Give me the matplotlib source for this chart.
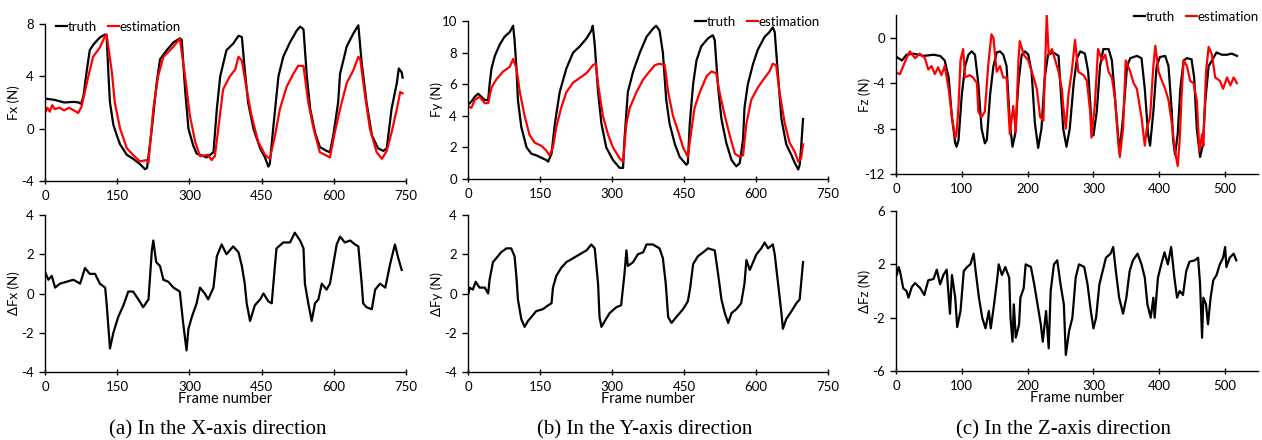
import numpy as np
import matplotlib.pyplot as plt

plt.rcParams['font.family'] = ['Lato', 'DejaVu Sans']
plt.rcParams['axes.unicode_minus'] = False

# (frame, value)
fx_truth = np.array([
    [0, 2.3], [10, 2.25], [20, 2.2], [40, 2.0], [60, 2.05], [70, 2.0], [75, 1.9], [80, 2.5],
    [87, 4.5], [93, 6.0], [100, 6.4], [107, 6.7], [115, 7.0], [125, 7.2], [128, 7.1], [132, 4.0],
    [135, 2.0], [142, 0.3], [150, -0.6], [156, -1.2], [170, -2.0], [183, -2.3], [197, -2.7],
    [208, -3.1], [212, -3.0], [222, 0.0], [232, 3.5], [239, 5.3], [253, 6.0], [267, 6.6],
    [280, 6.9], [284, 6.8], [291, 3.0], [298, 0.0], [308, -1.3], [315, -1.9], [329, -2.1],
    [336, -2.2], [350, -1.8], [357, 1.5], [364, 4.0], [377, 6.0], [391, 6.5], [402, 7.1],
    [409, 7.0], [415, 4.5], [422, 2.0], [433, 0.0], [447, -1.5], [457, -2.2], [464, -2.9],
    [467, -2.7], [474, 0.0], [485, 4.0], [495, 5.5], [509, 6.6], [523, 7.5], [530, 7.8],
    [537, 7.6], [544, 4.0], [551, 1.5], [561, -0.3], [571, -1.4], [585, -1.7], [592, -1.8],
    [599, -0.5], [609, 2.0], [613, 4.2], [627, 6.3], [641, 7.3], [651, 7.9], [658, 5.0],
    [668, 2.0], [679, -0.5], [692, -1.5], [703, -1.7], [710, -1.5], [720, 1.5], [731, 3.5],
    [735, 4.6], [741, 4.3], [743, 3.9]])
fx_est = np.array([
    [0, 1.2], [5, 1.6], [10, 1.3], [15, 1.8], [20, 1.5], [30, 1.6], [40, 1.4], [50, 1.6],
    [60, 1.4], [69, 1.2], [76, 1.7], [90, 4.0], [100, 5.5], [114, 6.2], [125, 7.1], [128, 7.2],
    [139, 4.3], [145, 2.0], [156, 0.0], [170, -1.5], [183, -2.0], [197, -2.5], [211, -2.4],
    [215, -2.6], [225, 1.5], [235, 4.0], [246, 5.5], [260, 6.0], [274, 6.6], [280, 6.9],
    [291, 4.0], [301, 1.0], [312, -1.0], [322, -2.1], [339, -2.0], [346, -2.4], [353, -2.1],
    [360, 0.0], [370, 3.0], [384, 4.0], [395, 4.5], [402, 5.5], [409, 5.2], [419, 3.0],
    [429, 1.0], [443, -1.0], [457, -2.0], [467, -2.3], [478, -0.5], [488, 1.5], [502, 3.2],
    [516, 4.2], [526, 4.8], [537, 4.8], [547, 2.0], [558, 0.0], [571, -1.8], [582, -2.0],
    [592, -2.2], [602, -0.3], [613, 1.5], [627, 3.5], [641, 4.5], [651, 5.5], [655, 5.3],
    [665, 2.5], [675, 0.0], [689, -1.8], [700, -2.3], [710, -1.7], [720, -0.3], [731, 1.5],
    [738, 2.8], [743, 2.7]])
dfx = np.array([
    [0, 1.1], [7, 0.7], [14, 0.9], [21, 0.3], [31, 0.5], [45, 0.6], [59, 0.7], [73, 0.5],
    [83, 1.3], [93, 1.0], [104, 1.0], [114, 0.5], [125, 0.3], [128, -0.5], [135, -2.8],
    [142, -2.0], [152, -1.2], [163, -0.6], [173, 0.1], [183, 0.1], [194, -0.3], [204, -0.7],
    [215, -0.3], [222, 2.2], [225, 2.7], [231, 1.6], [239, 1.4], [246, 0.7], [256, 0.6],
    [267, 0.3], [280, 0.1], [287, -1.5], [294, -2.9], [298, -1.8], [305, -1.2], [315, -0.5],
    [322, 0.3], [332, 0.0], [339, -0.3], [350, 0.3], [357, 1.9], [367, 2.5], [377, 2.0],
    [391, 2.4], [402, 2.1], [409, 1.4], [415, 0.5], [419, -0.5], [426, -1.4], [436, -0.6],
    [447, -0.3], [454, 0.0], [464, -0.4], [471, -0.5], [478, 1.5], [481, 2.3], [495, 2.6],
    [509, 2.6], [519, 3.1], [530, 2.7], [537, 2.3], [540, 0.5], [547, -0.5], [554, -1.4],
    [561, -0.5], [568, -0.3], [575, 0.5], [585, 0.2], [592, 0.5], [599, 1.5], [606, 2.5],
    [613, 2.9], [623, 2.6], [634, 2.7], [644, 2.5], [651, 2.4], [658, 0.5], [661, -0.5],
    [668, -0.7], [679, -0.8], [686, 0.2], [696, 0.5], [707, 0.3], [717, 1.5], [727, 2.5],
    [734, 1.8], [741, 1.2]])

fy_truth = np.array([
    [0, 4.7], [7, 4.9], [14, 5.2], [21, 5.4], [28, 5.2], [35, 5.0], [42, 5.0], [45, 6.0],
    [49, 7.0], [56, 7.8], [66, 8.5], [76, 9.0], [87, 9.3], [94, 9.7], [97, 8.8], [101, 7.0],
    [104, 5.0], [111, 3.3], [122, 2.0], [132, 1.6], [142, 1.5], [156, 1.3], [163, 1.2],
    [167, 1.1], [174, 1.6], [181, 3.5], [191, 5.5], [205, 7.0], [219, 8.0], [233, 8.4],
    [247, 8.9], [257, 9.4], [260, 9.7], [264, 8.5], [271, 5.5], [278, 3.5], [288, 2.0],
    [302, 1.2], [316, 0.7], [323, 0.7], [326, 2.5], [333, 5.5], [344, 6.8], [358, 8.0],
    [372, 9.0], [385, 9.5], [392, 9.7], [399, 9.4], [406, 8.0], [413, 5.0], [420, 3.5],
    [431, 2.2], [441, 1.4], [455, 0.9], [458, 1.0], [462, 3.5], [469, 6.0], [476, 7.5],
    [486, 8.4], [500, 8.9], [510, 9.1], [514, 8.8], [521, 5.8], [528, 3.8], [538, 2.3],
    [549, 1.2], [559, 0.8], [566, 1.0], [573, 2.5], [576, 4.5], [583, 6.0], [594, 7.3],
    [604, 8.2], [618, 9.0], [628, 9.3], [635, 9.6], [639, 9.3], [646, 6.5], [653, 3.8],
    [663, 2.2], [674, 1.5], [681, 1.0], [688, 0.6], [691, 0.9], [694, 2.0], [698, 3.8]])
fy_est = np.array([
    [0, 4.6], [7, 4.5], [14, 5.0], [24, 5.2], [35, 4.8], [42, 4.8], [49, 5.8], [59, 6.3],
    [73, 6.8], [87, 7.1], [94, 7.6], [101, 7.0], [108, 5.5], [118, 4.0], [128, 2.8],
    [139, 2.3], [153, 2.1], [163, 1.8], [170, 1.5], [177, 2.0], [184, 3.3], [194, 4.5],
    [205, 5.5], [219, 6.1], [233, 6.4], [247, 6.7], [260, 7.2], [266, 7.3], [271, 6.0],
    [281, 4.0], [292, 2.8], [302, 2.0], [316, 1.3], [323, 1.1], [330, 3.5], [337, 4.5],
    [351, 5.5], [365, 6.3], [378, 6.8], [389, 7.2], [399, 7.3], [410, 7.2], [417, 5.5],
    [427, 4.0], [438, 3.0], [448, 2.0], [458, 1.4], [465, 3.0], [472, 4.5], [483, 5.5],
    [497, 6.5], [507, 6.8], [517, 6.7], [524, 5.5], [535, 4.0], [545, 2.8], [556, 1.6],
    [566, 1.4], [573, 1.5], [580, 3.5], [590, 5.0], [604, 5.8], [618, 6.4], [628, 6.8],
    [635, 7.3], [642, 7.2], [649, 5.5], [660, 3.5], [670, 2.3], [681, 1.7], [688, 1.1],
    [694, 1.3], [698, 2.2]])
dfy = np.array([
    [1, 0.0], [3, 0.3], [10, 0.2], [16, 0.6], [24, 0.3], [35, 0.3], [42, 0.0], [45, 0.7],
    [52, 1.6], [59, 1.8], [69, 2.1], [80, 2.3], [90, 2.3], [97, 1.9], [101, 0.8], [104, -0.3],
    [111, -1.3], [118, -1.7], [125, -1.4], [132, -1.2], [142, -0.9], [156, -0.8], [167, -0.6],
    [174, -0.5], [177, 0.3], [184, 0.9], [194, 1.3], [205, 1.6], [219, 1.8], [233, 2.0],
    [247, 2.2], [257, 2.5], [264, 2.3], [271, 0.5], [274, -1.2], [278, -1.7], [285, -1.4],
    [295, -1.0], [309, -0.7], [319, -0.6], [326, 1.0], [330, 2.2], [333, 1.4], [344, 1.6],
    [354, 2.0], [365, 2.1], [372, 2.5], [385, 2.5], [399, 2.3], [406, 1.8], [412, 0.5],
    [417, -1.2], [424, -1.5], [434, -1.2], [448, -0.8], [458, -0.4], [463, 0.3], [469, 1.5],
    [479, 1.9], [490, 2.1], [500, 2.3], [514, 2.2], [521, 1.0], [528, -0.3], [535, -1.0],
    [542, -1.5], [549, -1.0], [559, -0.8], [569, -0.5], [576, 0.5], [580, 1.7], [587, 1.2],
    [594, 1.6], [601, 2.0], [611, 2.3], [618, 2.6], [625, 2.3], [635, 2.5], [639, 2.0],
    [646, 0.5], [653, -1.0], [656, -1.8], [663, -1.3], [674, -0.9], [684, -0.5], [691, -0.3],
    [698, 1.6]])

fz_truth = np.array([
    [1, -1.7], [9, -2.0], [16, -1.5], [26, -1.4], [42, -1.6], [57, -1.5], [67, -1.6],
    [74, -2.0], [80, -3.5], [85, -7.0], [90, -9.3], [92, -9.6], [95, -9.0], [100, -5.0],
    [105, -2.5], [110, -1.5], [115, -1.2], [120, -1.5], [125, -4.0], [130, -8.0], [135, -9.3],
    [138, -9.0], [143, -5.0], [148, -2.5], [153, -1.3], [158, -1.2], [163, -1.5], [168, -2.5],
    [173, -7.5], [177, -9.6], [181, -8.5], [186, -4.0], [191, -1.5], [196, -1.2], [201, -1.5],
    [206, -3.0], [211, -7.5], [216, -9.7], [221, -8.0], [226, -3.5], [231, -1.5], [239, -1.3],
    [247, -1.6], [249, -3.5], [254, -8.0], [259, -9.6], [264, -8.0], [270, -4.0], [275, -1.8],
    [280, -1.2], [287, -1.4], [292, -3.0], [297, -7.5], [300, -8.6], [305, -6.5], [310, -2.5],
    [315, -1.0], [323, -1.0], [328, -2.0], [333, -5.5], [338, -9.0], [340, -9.8], [345, -7.0],
    [351, -2.5], [356, -1.8], [366, -1.6], [373, -1.8], [378, -4.5], [383, -8.5], [386, -9.5],
    [391, -6.5], [396, -2.5], [401, -1.7], [409, -1.6], [414, -2.5], [419, -6.5], [421, -9.0],
    [424, -10.3], [428, -8.5], [432, -4.5], [437, -2.0], [442, -1.8], [449, -1.9], [453, -3.5],
    [457, -8.0], [462, -10.5], [466, -9.5], [470, -5.5], [475, -2.5], [480, -2.0], [487, -1.3],
    [495, -1.5], [503, -1.5], [510, -1.4], [518, -1.6]])
fz_est = np.array([
    [1, -3.1], [6, -3.2], [11, -2.5], [16, -1.8], [21, -1.2], [29, -1.8], [36, -1.4],
    [44, -1.8], [49, -2.8], [54, -2.5], [59, -3.2], [64, -2.6], [69, -3.3], [74, -2.5],
    [80, -4.5], [85, -7.0], [90, -8.8], [92, -8.5], [95, -6.0], [98, -2.0], [102, -1.0],
    [105, -3.5], [112, -3.3], [117, -3.5], [123, -4.0], [125, -6.5], [130, -7.0], [135, -6.5],
    [140, -2.5], [145, 0.3], [148, 0.0], [153, -3.0], [158, -2.5], [163, -3.5], [168, -3.5],
    [173, -8.5], [176, -7.0], [178, -6.0], [182, -8.3], [186, -2.0], [188, -0.3], [194, -1.5],
    [201, -2.0], [209, -3.5], [214, -4.5], [219, -7.0], [224, -7.3], [226, -3.5], [229, 2.0],
    [232, -1.5], [237, -1.0], [242, -2.0], [247, -3.0], [252, -4.5], [254, -6.0], [258, -8.0],
    [262, -5.0], [267, -3.0], [272, -0.2], [277, -3.0], [285, -3.3], [290, -3.8], [295, -6.5],
    [297, -8.8], [302, -6.0], [307, -1.0], [313, -2.0], [318, -1.5], [323, -3.0], [328, -3.5],
    [333, -5.5], [338, -9.5], [340, -10.5], [345, -8.0], [349, -2.0], [356, -3.0], [361, -4.0],
    [366, -4.5], [373, -7.0], [378, -9.5], [381, -8.0], [386, -7.0], [391, -2.5], [394, -0.7],
    [399, -3.0], [404, -3.8], [409, -4.5], [414, -5.5], [419, -7.5], [424, -10.0], [428, -11.3],
    [431, -9.0], [434, -5.0], [437, -2.0], [442, -2.5], [447, -3.8], [452, -4.0], [457, -5.5],
    [461, -10.0], [465, -8.5], [467, -9.5], [471, -3.0], [475, -0.8], [480, -1.5], [485, -3.5],
    [492, -3.8], [497, -4.5], [503, -3.5], [508, -4.2], [513, -3.5], [518, -4.0]])
dfz = np.array([
    [1, 1.2], [4, 1.8], [6, 1.5], [11, 0.2], [16, 0.0], [19, -0.5], [24, 0.3], [29, 0.6],
    [37, 0.2], [43, -0.3], [49, 0.8], [57, 0.9], [62, 1.6], [67, 0.5], [72, 1.2], [77, 1.6],
    [82, -1.7], [85, 1.2], [90, -0.5], [93, -2.7], [98, -1.5], [103, 1.5], [108, 1.8],
    [113, 2.0], [118, 2.8], [121, 1.5], [126, -0.5], [131, -2.0], [136, -2.8], [141, -1.5],
    [144, -2.8], [149, -1.0], [154, 1.0], [156, 2.0], [161, 1.2], [166, 1.8], [172, 1.0],
    [174, -2.0], [177, -3.8], [179, -1.0], [182, -3.5], [187, -2.5], [189, -0.5], [194, 0.2],
    [197, 2.0], [205, 1.8], [210, 0.5], [215, -1.0], [220, -2.5], [223, -3.8], [228, -1.5],
    [232, -4.3], [235, 0.0], [240, 2.0], [245, 2.3], [250, 0.5], [255, -1.0], [258, -4.8],
    [263, -3.0], [268, -2.0], [273, 1.0], [278, 2.0], [286, 1.8], [291, 0.5], [296, -1.5],
    [300, -2.8], [304, -2.0], [309, 0.5], [314, 1.5], [319, 2.5], [326, 2.8], [330, 3.3],
    [334, 1.5], [339, -0.5], [345, -1.7], [350, -0.5], [355, 1.5], [360, 2.3], [367, 2.8],
    [373, 2.0], [378, 1.0], [382, -1.0], [387, -2.0], [391, -0.5], [393, -2.0], [398, 1.0],
    [403, 2.0], [408, 2.9], [413, 2.0], [418, 3.3], [423, 1.0], [427, -0.5], [431, 0.0],
    [436, -0.3], [441, 1.5], [446, 2.2], [454, 2.3], [459, 2.5], [462, 0.5], [465, -3.5],
    [467, -0.5], [471, -1.0], [474, -2.5], [478, -0.5], [482, 0.8], [487, 1.2], [492, 2.0],
    [497, 2.5], [500, 3.3], [502, 1.8], [507, 2.5], [513, 2.8], [517, 2.3]])

captions = ["(a) In the X-axis direction", "(b) In the Y-axis direction",
            "(c) In the Z-axis direction"]

W, H = 1262, 440
fig = plt.figure(figsize=(W / 100, H / 100), dpi=100)


def add_ax(x0, x1, y0, y1):
    # pixel box, top-origin
    return fig.add_axes([x0 / W, 1 - y1 / H, (x1 - x0) / W, (y1 - y0) / H])


def style(ax, xlim, xticks, ylim, yticks, ylabel, width_px):
    ax.set_xlim(*xlim)
    ax.set_ylim(*ylim)
    ax.set_xticks(xticks)
    ax.set_yticks(yticks)
    for s in ("top", "right"):
        ax.spines[s].set_visible(False)
    for s in ("left", "bottom"):
        ax.spines[s].set_linewidth(1.0)
    ax.tick_params(axis="x", direction="inout", length=5, width=1.0, labelsize=9.5, pad=4)
    ax.tick_params(axis="y", direction="out", length=4, width=1.0, labelsize=9.5, pad=4)
    ax.set_ylabel(ylabel, fontsize=9.5)
    ax.yaxis.set_label_coords(-25 / width_px, 0.5)


lw = 1.6
panels = [
    (fx_truth, fx_est, dfx, (45, 406), (24, 181), (215, 372), (0, 750), [0, 150, 300, 450, 600, 750],
     (-4, 8), [-4, 0, 4, 8], (-4, 4), [-4, -2, 0, 2, 4], "Fx (N)", "ΔFx (N)"),
    (fy_truth, fy_est, dfy, (468, 828), (21, 179), (215, 372), (0, 750), [0, 150, 300, 450, 600, 750],
     (0, 10), [0, 2, 4, 6, 8, 10], (-4, 4), [-4, -2, 0, 2, 4], "Fy (N)", "ΔFy (N)"),
    (fz_truth, fz_est, dfz, (896, 1258), (15, 174), (211, 371), (0, 550), [0, 100, 200, 300, 400, 500],
     (-12, 2), [-12, -8, -4, 0], (-6, 6), [-6, -2, 2, 6], "Fz (N)", "ΔFz (N)"),
]
legend_pos = [(56, 27), (695, 22), (1134, 17)]
caption_x = [218, 645, 1063]

for i, (tr, es, df, xr, ytop, ybot, xlim, xt, yl1, yt1, yl2, yt2, lab1, lab2) in enumerate(panels):
    wpx = xr[1] - xr[0]
    ax1 = add_ax(xr[0], xr[1], ytop[0], ytop[1])
    ax1.plot(tr[:, 0], tr[:, 1], color="black", lw=lw, label="truth")
    ax1.plot(es[:, 0], es[:, 1], color="red", lw=lw, label="estimation")
    style(ax1, xlim, xt, yl1, yt1, lab1, wpx)
    lx, ly = legend_pos[i]
    ax1.legend(loc="center left", bbox_to_anchor=(lx / W, 1 - ly / H), bbox_transform=fig.transFigure,
               ncol=2, frameon=False, fontsize=9.5, handlelength=0.85, handletextpad=0.05,
               columnspacing=0.8, borderaxespad=0.0, borderpad=0.0)

    ax2 = add_ax(xr[0], xr[1], ybot[0], ybot[1])
    ax2.plot(df[:, 0], df[:, 1], color="black", lw=lw)
    style(ax2, xlim, xt, yl2, yt2, lab2, wpx)
    ax2.set_xlabel("Frame number", fontsize=10.5, labelpad=-1)

    fig.text(caption_x[i] / W, 1 - 430 / H, captions[i], ha="center", va="center",
             fontsize=15, family="Liberation Serif")

fig.savefig("out.png", dpi=100)
